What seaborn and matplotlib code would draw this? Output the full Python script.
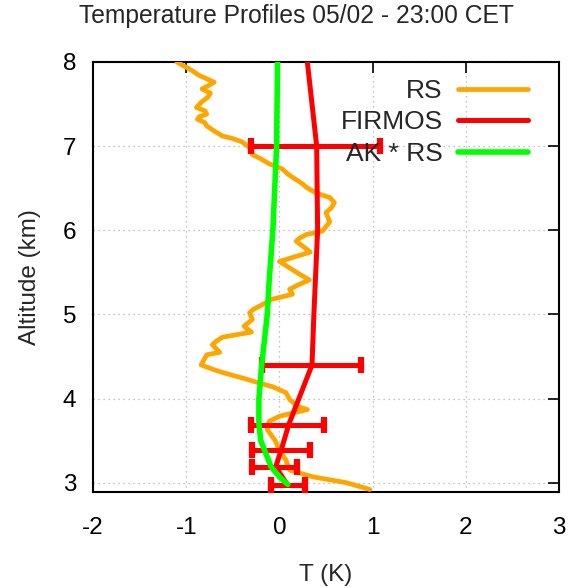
import numpy as np
import pandas as pd
import matplotlib
matplotlib.use("Agg")
import matplotlib.pyplot as plt
import seaborn as sns

# ---- data ----
rs_T = [-1.10, -1.02, -0.94, -0.86, -0.70, -0.76, -0.83, -0.74, -0.77, -0.84,
        -0.89, -0.80, -0.78, -0.86, -0.88, -0.80, -0.78, -0.70, -0.61,
        -0.50, -0.40, -0.34, -0.30, -0.29, -0.20, -0.11, 0.03, 0.10, 0.21, 0.25,
        0.29, 0.40, 0.54, 0.59, 0.56, 0.50, 0.54, 0.46, 0.29, 0.22, 0.18, 0.30,
        0.33, 0.00, 0.10, 0.20, 0.32, 0.20, 0.11,
        0.14, -0.08, -0.21, -0.28, -0.32, -0.29, -0.38, -0.30, -0.61, -0.68, -0.72, -0.64,
        -0.78, -0.84, -0.72, -0.61, -0.35, -0.20, -0.07, 0.07, 0.11, 0.19, 0.30, 0.00,
        -0.11, -0.13, -0.05, 0.00, 0.07, 0.11, 0.36, 0.72, 0.97]
rs_alt = [8.00, 7.95, 7.90, 7.84, 7.76, 7.72, 7.68, 7.63, 7.58, 7.52,
          7.46, 7.42, 7.38, 7.35, 7.32, 7.28, 7.24, 7.18, 7.12,
          7.09, 7.05, 7.00, 6.96, 6.90, 6.85, 6.79, 6.73, 6.66, 6.58, 6.55,
          6.51, 6.44, 6.39, 6.33, 6.27, 6.21, 6.10, 5.99, 5.95, 5.91, 5.87, 5.77,
          5.74, 5.63, 5.56, 5.49, 5.41, 5.35, 5.30,
          5.24, 5.18, 5.10, 5.06, 5.02, 4.94, 4.86, 4.79, 4.73, 4.68, 4.64, 4.55,
          4.52, 4.40, 4.35, 4.31, 4.23, 4.18, 4.14, 4.07, 3.99, 3.91, 3.87, 3.79,
          3.73, 3.63, 3.51, 3.39, 3.27, 3.15, 3.07, 3.00, 2.92]

firmos_T = [0.30, 0.40, 0.41, 0.37, 0.35, 0.10, 0.02, -0.04, 0.09]
firmos_alt = [8.00, 7.00, 6.00, 5.00, 4.40, 3.69, 3.39, 3.19, 2.97]

err_alt = [7.00, 4.40, 3.69, 3.39, 3.19, 2.97]
err_T = [0.385, 0.345, 0.09, 0.015, -0.055, 0.095]
err_half = [0.69, 0.53, 0.39, 0.31, 0.24, 0.18]

ak_T = [-0.02, -0.03, -0.07, -0.11, -0.13, -0.17, -0.19, -0.22, -0.22, -0.20, -0.16, -0.09, 0.00, 0.09]
ak_alt = [8.00, 7.00, 6.00, 5.40, 5.00, 4.60, 4.40, 4.00, 3.70, 3.50, 3.39, 3.19, 3.07, 2.98]

x_ticks = [-2, -1, 0, 1, 2, 3]
y_ticks = [3, 4, 5, 6, 7, 8]

sns.set_theme(style="white")
plt.rcParams['font.family'] = ['Liberation Sans', 'DejaVu Sans']

fig = plt.figure(figsize=(5.71, 5.88), dpi=100)
ax = fig.add_axes([93/571, 1 - 492/588, (559 - 93)/571, (492 - 62)/588])

rs = pd.DataFrame({"T": rs_T, "alt": rs_alt})
fm = pd.DataFrame({"T": firmos_T, "alt": firmos_alt})
ak = pd.DataFrame({"T": ak_T, "alt": ak_alt})

sns.lineplot(data=rs, x="T", y="alt", sort=False, estimator=None, color="#ffa500",
             lw=3.4, ax=ax, label="RS", zorder=3)
sns.lineplot(data=fm, x="T", y="alt", sort=False, estimator=None, color="#ff0000",
             lw=3.6, ax=ax, label="FIRMOS", zorder=4)
ax.errorbar(err_T, err_alt, xerr=err_half, fmt="none", ecolor="#ff0000",
            elinewidth=3.6, capsize=6, capthick=4.5, zorder=4)
sns.lineplot(data=ak, x="T", y="alt", sort=False, estimator=None, color="#00ff00",
             lw=4.0, ax=ax, label="AK * RS", zorder=5)

ax.set_xlim(-2, 3)
ax.set_ylim(2.89, 8)
ax.set_xticks(x_ticks)
ax.set_yticks(y_ticks)
ax.set_xticklabels([str(v) for v in x_ticks])
ax.set_yticklabels([str(v) for v in y_ticks])
ax.grid(True, color="#b0b0b0", linestyle=(0, (1, 3)), linewidth=0.9)
ax.tick_params(direction="in", length=8, width=1.2, top=True, right=True,
               labelsize=17.5, colors="black")
ax.tick_params(axis="x", pad=18)
ax.tick_params(axis="y", pad=12)
for s in ax.spines.values():
    s.set_color("black")
    s.set_linewidth(1.5)

ax.set_xlabel("T (K)", fontsize=17.5, labelpad=18)
ax.set_ylabel("Altitude (km)", fontsize=17.5, labelpad=16)
fig.text(296/571, 1 - 16/588, "Temperature Profiles 05/02 - 23:00 CET",
         fontsize=17.7, ha="center", va="center")

leg = ax.legend(loc="upper right", frameon=False, markerfirst=False,
                fontsize=19, handlelength=2.65, handletextpad=0.6,
                labelspacing=0.28, borderaxespad=0.0, bbox_to_anchor=(0.957, 0.985))
for t in leg.get_texts():
    t.set_ha("right")

fig.savefig("out.png", dpi=100)
